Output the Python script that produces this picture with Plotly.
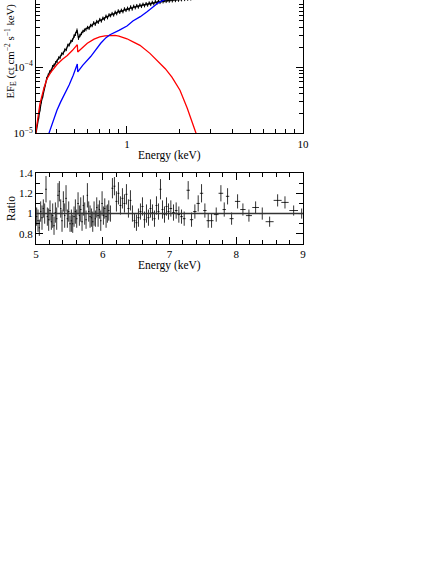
import plotly.graph_objects as go
from plotly.subplots import make_subplots

# ---------------------------------------------------------------------------
# Top panel: unfolded spectrum (keV, EF_E)
# ---------------------------------------------------------------------------
spec_energy = [
    0.305, 0.31, 0.315, 0.32, 0.326, 0.332, 0.338, 0.344, 0.35, 0.357,
    0.364, 0.371, 0.378, 0.385, 0.393, 0.401, 0.409, 0.417, 0.425, 0.434,
    0.443, 0.452, 0.461, 0.47, 0.48, 0.49, 0.50, 0.51, 0.52, 0.53,
    0.54, 0.551, 0.562, 0.573, 0.585, 0.597, 0.609, 0.621, 0.634, 0.647,
    0.66, 0.673, 0.687, 0.701, 0.715, 0.73, 0.745, 0.76, 0.775, 0.791,
    0.807, 0.823, 0.84, 0.857, 0.874, 0.892, 0.91, 0.929, 0.948, 0.967,
    0.987, 1.007, 1.028, 1.049, 1.07, 1.092, 1.114, 1.137, 1.16, 1.184,
    1.208, 1.233, 1.258, 1.284, 1.31, 1.337, 1.364, 1.392, 1.42, 1.449,
    1.479, 1.509, 1.54, 1.571, 1.603, 1.636, 1.669, 1.703, 1.738, 1.773,
    1.809, 1.846, 1.884, 1.922, 1.961, 2.001, 2.042, 2.084, 2.126, 2.169,
    2.213, 2.258, 2.304, 2.351, 2.399, 2.448,
]
spec_flux = [
    1.07e-5, 1.41e-5, 1.74e-5, 2.29e-5, 3.02e-5, 3.63e-5, 4.79e-5, 5.5e-5, 6.76e-5, 7.59e-5,
    8.51e-5, 8.91e-5, 1.02e-4, 1.07e-4, 1.17e-4, 1.23e-4, 1.38e-4, 1.41e-4, 1.58e-4, 1.62e-4,
    1.82e-4, 1.86e-4, 2.14e-4, 2.19e-4, 2.45e-4, 2.57e-4, 2.95e-4, 3.16e-4, 3.63e-4, 2.75e-4,
    3.02e-4, 3.24e-4, 3.47e-4, 3.63e-4, 3.72e-4, 3.98e-4, 3.89e-4, 4.27e-4, 4.27e-4, 4.68e-4,
    4.47e-4, 4.9e-4, 4.79e-4, 5.25e-4, 5.01e-4, 5.5e-4, 5.37e-4, 5.89e-4, 5.62e-4, 6.17e-4,
    6.03e-4, 6.46e-4, 6.17e-4, 6.76e-4, 6.46e-4, 7.08e-4, 6.76e-4, 7.24e-4, 6.92e-4, 7.59e-4,
    7.24e-4, 7.76e-4, 7.41e-4, 8.13e-4, 7.59e-4, 8.32e-4, 7.94e-4, 8.51e-4, 8.13e-4, 8.71e-4,
    8.32e-4, 8.91e-4, 8.51e-4, 9.12e-4, 8.71e-4, 9.33e-4, 8.91e-4, 9.55e-4, 9.12e-4, 9.77e-4,
    9.33e-4, 1.0e-3, 9.55e-4, 1.01e-3, 9.77e-4, 1.02e-3, 9.89e-4, 1.035e-3, 1.0e-3, 1.05e-3,
    1.01e-3, 1.06e-3, 1.02e-3, 1.07e-3, 1.035e-3, 1.08e-3, 1.05e-3, 1.10e-3, 1.06e-3, 1.11e-3,
    1.07e-3, 1.12e-3, 1.08e-3, 1.15e-3, 1.10e-3, 1.17e-3,
]

# soft component (red)
soft_energy = [0.30, 0.31, 0.32, 0.335, 0.35, 0.368, 0.40, 0.43, 0.458, 0.49,
               0.522, 0.525, 0.55, 0.595, 0.65, 0.70, 0.75, 0.80, 0.83, 0.855,
               0.9, 1.0, 1.09, 1.185, 1.35, 1.5, 1.65, 1.8, 2.0, 2.2,
               2.35, 2.47, 2.6]
soft_flux = [8.5e-6, 1.55e-5, 2.8e-5, 4.5e-5, 6.6e-5, 8.3e-5, 1.1e-4, 1.32e-4, 1.5e-4, 1.8e-4,
             2.19e-4, 1.7e-4, 1.9e-4, 2.3e-4, 2.66e-4, 2.88e-4, 2.98e-4, 2.99e-4, 3.05e-4, 3.02e-4,
             2.95e-4, 2.69e-4, 2.4e-4, 2.14e-4, 1.62e-4, 1.2e-4, 9.5e-5, 7.1e-5, 4.5e-5, 2.4e-5,
             1.5e-5, 1.0e-5, 6.0e-6]

# hard component (blue)
hard_energy = [0.355, 0.38, 0.40, 0.42, 0.445, 0.469, 0.495, 0.522, 0.525, 0.56,
               0.622, 0.66, 0.709, 0.76, 0.80, 0.9, 1.0, 1.08, 1.19, 1.3,
               1.41, 1.5, 1.6, 1.7, 1.8, 2.0]
hard_flux = [9.0e-6, 1.58e-5, 2.24e-5, 3.0e-5, 4.0e-5, 5.4e-5, 7.6e-5, 1.12e-4, 8.5e-5, 1.07e-4,
             1.45e-4, 1.8e-4, 2.3e-4, 2.8e-4, 3.1e-4, 3.6e-4, 4.2e-4, 5.0e-4, 5.8e-4, 6.9e-4,
             8.3e-4, 9.3e-4, 1.02e-3, 1.1e-3, 1.17e-3, 1.27e-3]

# ---------------------------------------------------------------------------
# Bottom panel: data/model ratio 5-9 keV
# ---------------------------------------------------------------------------
ratio_energy = [
    5.01, 5.03, 5.05, 5.07, 5.09, 5.11, 5.13, 5.15, 5.17, 5.19,
    5.21, 5.23, 5.25, 5.27, 5.29, 5.31, 5.33, 5.35, 5.37, 5.39,
    5.41, 5.43, 5.45, 5.47, 5.49, 5.51, 5.53, 5.55, 5.57, 5.59,
    5.61, 5.63, 5.65, 5.67, 5.69, 5.71, 5.73, 5.75, 5.77, 5.79,
    5.81, 5.83, 5.85, 5.87, 5.89, 5.91, 5.93, 5.95, 5.97, 5.99,
    6.01, 6.03, 6.05, 6.07, 6.09,
    6.115, 6.145, 6.175, 6.205, 6.235, 6.265, 6.295, 6.325, 6.355, 6.385,
    6.415, 6.445, 6.475, 6.505, 6.535, 6.565, 6.595, 6.625, 6.655, 6.685,
    6.715, 6.745, 6.775, 6.805, 6.835, 6.865, 6.895, 6.925, 6.955, 6.985,
    7.02, 7.06, 7.10, 7.14, 7.18, 7.22, 7.28, 7.33, 7.38, 7.43, 7.48,
    7.53, 7.58, 7.63, 7.70, 7.77, 7.82, 7.87, 7.93,
    8.02, 8.10, 8.19, 8.29, 8.39, 8.50, 8.62, 8.73, 8.86, 8.98,
]
ratio_value = [
    0.97, 0.93, 0.86, 1.02, 0.96, 1.05, 1.00, 1.24, 0.97, 0.94,
    1.03, 0.92, 0.98, 0.88, 1.01, 0.95, 1.18, 1.22, 1.05, 0.93,
    1.12, 0.98, 1.15, 0.95, 1.02, 0.90, 0.93, 0.90, 0.97, 1.02,
    0.95, 1.10, 0.98, 1.04, 0.92, 1.08, 1.00, 0.94, 1.18, 1.02,
    0.97, 0.96, 0.92, 1.00, 0.95, 1.06, 0.98, 1.04, 0.93, 1.10,
    0.98, 1.05, 0.97, 1.00, 1.03,
    1.00, 1.25, 1.27, 1.12, 1.20, 1.08, 1.15, 1.10, 1.19, 1.05,
    1.13, 1.00, 0.93, 0.91, 0.96, 1.02, 1.07, 0.94, 1.00, 0.96,
    1.05, 1.01, 0.95, 1.08, 1.02, 1.24, 1.04, 0.99, 1.07, 1.02,
    1.05, 1.01, 1.03, 0.99, 0.97, 0.95, 1.23, 0.94, 1.02, 1.10, 1.20,
    1.03, 0.93, 0.93, 0.99, 1.20, 1.04, 1.17, 0.95,
    1.12, 1.04, 0.98, 1.06, 1.00, 0.92, 1.13, 1.11, 1.03, 1.00,
]
ratio_err = [
    0.09, 0.11, 0.08, 0.10, 0.12, 0.09, 0.10, 0.13, 0.09, 0.11,
    0.10, 0.08, 0.12, 0.09, 0.10, 0.11, 0.12, 0.10, 0.09, 0.11,
    0.10, 0.12, 0.13, 0.09, 0.10, 0.08, 0.11, 0.09, 0.10, 0.12,
    0.09, 0.11, 0.10, 0.12, 0.09, 0.10, 0.11, 0.09, 0.12, 0.10,
    0.11, 0.09, 0.10, 0.12, 0.08, 0.10, 0.11, 0.09, 0.10, 0.12,
    0.09, 0.10, 0.11, 0.09, 0.10,
    0.08, 0.10, 0.09, 0.10, 0.11, 0.09, 0.10, 0.09, 0.10, 0.09,
    0.10, 0.08, 0.07, 0.08, 0.09, 0.08, 0.09, 0.08, 0.09, 0.08,
    0.09, 0.08, 0.08, 0.09, 0.08, 0.10, 0.09, 0.08, 0.09, 0.08,
    0.08, 0.08, 0.08, 0.08, 0.07, 0.07, 0.09, 0.07, 0.07, 0.08, 0.09,
    0.07, 0.07, 0.07, 0.07, 0.08, 0.07, 0.08, 0.06,
    0.07, 0.06, 0.06, 0.06, 0.06, 0.05, 0.06, 0.06, 0.05, 0.05,
]
ratio_halfwidth = (
    [0.01] * 55 + [0.015] * 30 + [0.02] * 6 + [0.025] * 5
    + [0.025, 0.025, 0.03, 0.035, 0.035, 0.025, 0.025, 0.03]
    + [0.04, 0.04, 0.045, 0.05, 0.05, 0.06, 0.06, 0.055, 0.065, 0.05]
)

FONT = "Liberation Serif"
INK = "#000000"

fig = make_subplots(rows=2, cols=1, shared_xaxes=False, vertical_spacing=0.0)

# spectrum data
fig.add_trace(go.Scatter(
    x=spec_energy, y=spec_flux, mode="lines",
    line=dict(color=INK, width=1.3),
    error_y=dict(type="percent", value=6, color=INK, thickness=1, width=0),
    showlegend=False,
), row=1, col=1)
fig.add_trace(go.Scatter(
    x=soft_energy, y=soft_flux, mode="lines",
    line=dict(color="#ff0000", width=1.3),
    showlegend=False,
), row=1, col=1)
fig.add_trace(go.Scatter(
    x=hard_energy, y=hard_flux, mode="lines",
    line=dict(color="#0000ff", width=1.3),
    showlegend=False,
), row=1, col=1)

# ratio
fig.add_trace(go.Scatter(
    x=ratio_energy, y=ratio_value, mode="markers",
    marker=dict(size=1, color=INK),
    error_y=dict(type="data", array=ratio_err, color="#333333", thickness=1, width=0),
    error_x=dict(type="data", array=ratio_halfwidth, color="#333333", thickness=1, width=0),
    showlegend=False,
), row=2, col=1)
fig.add_shape(type="line", xref="x2 domain", yref="y2", x0=0, x1=1, y0=1, y1=1,
              line=dict(color="#333333", width=1.5))

axis_style = dict(
    showline=True, linecolor=INK, linewidth=1, ticks="inside", tickcolor=INK,
    ticklen=7, tickwidth=1, showgrid=False, zeroline=False, automargin=False,
    tickfont=dict(family=FONT, size=11, color=INK),
)

fig.update_xaxes(
    type="log", range=[-0.517, 1.0], mirror=False,
    tickvals=[1, 10], ticktext=["1", "10"],
    minor=dict(tickvals=[0.4, 0.5, 0.6, 0.7, 0.8, 0.9, 2, 3, 4, 5, 6, 7, 8, 9],
               ticklen=4, tickcolor=INK, ticks="inside"),
    domain=[0, 1], **axis_style, row=1, col=1,
)
fig.update_yaxes(
    type="log", range=[-5, -2.985], mirror="ticks",
    tickvals=[1e-5, 1e-4, 1e-3],
    ticktext=["10<sup>−5</sup>", "10<sup>−4</sup>", "10<sup>−3</sup>"],
    minor=dict(tickvals=[2e-5, 3e-5, 4e-5, 5e-5, 6e-5, 7e-5, 8e-5, 9e-5,
                         2e-4, 3e-4, 4e-4, 5e-4, 6e-4, 7e-4, 8e-4, 9e-4],
               ticklen=4, tickcolor=INK, ticks="inside"),
    domain=[0.4529, 1.0], **axis_style, row=1, col=1,
)
fig.update_xaxes(
    range=[5, 9], mirror="ticks", tickvals=[5, 6, 7, 8, 9],
    minor=dict(dtick=0.2, ticklen=4, tickcolor=INK, ticks="inside"),
    domain=[0, 1], **axis_style, row=2, col=1,
)
fig.update_yaxes(
    range=[0.7, 1.4], mirror="ticks",
    tickvals=[0.8, 1.0, 1.2, 1.4], ticktext=["0.8", "1", "1.2", "1.4"],
    minor=dict(tickvals=[0.7, 0.9, 1.1, 1.3], ticklen=4, tickcolor=INK, ticks="inside"),
    domain=[0.0, 0.291], **axis_style, row=2, col=1,
)

title_font = dict(family=FONT, size=11.5, color=INK)
fig.add_annotation(text="Energy (keV)", xref="paper", yref="paper",
                   x=0.5, y=(244 - 155) / 244, yanchor="middle",
                   showarrow=False, font=title_font)
fig.add_annotation(text="Energy (keV)", xref="paper", yref="paper",
                   x=0.5, y=(244 - 265) / 244, yanchor="middle",
                   showarrow=False, font=title_font)
fig.add_annotation(text="EF<sub>E</sub> (ct cm<sup>−2</sup> s<sup>−1</sup> keV)",
                   xref="paper", yref="paper", x=(11 - 36) / 267, y=(244 - 101) / 244,
                   xanchor="center", yanchor="bottom", textangle=-90,
                   showarrow=False, font=dict(family=FONT, size=10.8, color=INK))
fig.add_annotation(text="Ratio", xref="paper", yref="paper",
                   x=(11 - 36) / 267, y=(244 - 209) / 244,
                   xanchor="center", yanchor="middle",
                   textangle=-90, showarrow=False, font=title_font)

fig.update_layout(
    width=441, height=570,
    margin=dict(l=36, r=138, t=0, b=326),
    paper_bgcolor="white", plot_bgcolor="white",
    font=dict(family=FONT, color=INK),
)

# the page body keeps its default 8px margin otherwise
fig.write_html("out.html", config={"displayModeBar": False},
               post_script="document.body.style.margin = '0px';")
